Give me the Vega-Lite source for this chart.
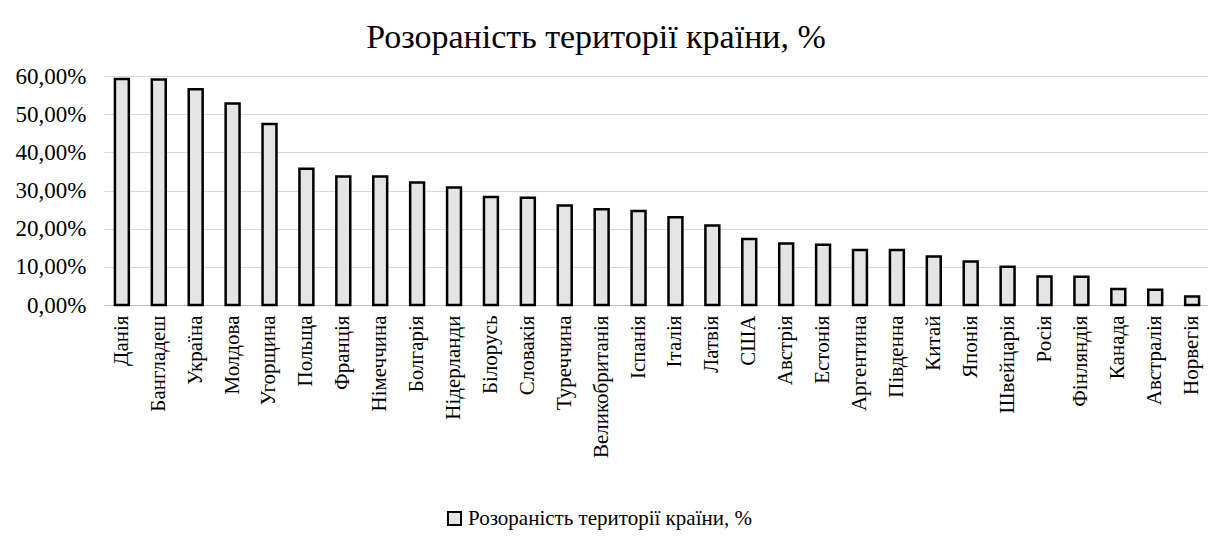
{
  "$schema": "https://vega.github.io/schema/vega-lite/v6.json",
  "width": 1104,
  "height": 229,
  "autosize": "none",
  "padding": {"left": 104, "top": 76, "right": 0, "bottom": 238},
  "background": "white",
  "config": {
    "locale": {"number": {"decimal": ",", "thousands": " ", "grouping": [3], "currency": ["", " ₴"]}},
    "font": "Liberation Serif",
    "view": {"stroke": null}
  },
  "title": {
    "text": "Розораність території країни, %",
    "font": "Liberation Serif",
    "fontSize": 34,
    "fontWeight": "normal",
    "color": "#000000",
    "anchor": "middle",
    "dx": -60,
    "offset": 10
  },
  "data": {
    "values": [
      {"country": "Данія", "share": 0.592},
      {"country": "Бангладеш", "share": 0.591},
      {"country": "Україна", "share": 0.565},
      {"country": "Молдова", "share": 0.528},
      {"country": "Угорщина", "share": 0.474},
      {"country": "Польща", "share": 0.357},
      {"country": "Франція", "share": 0.337},
      {"country": "Німеччина", "share": 0.337},
      {"country": "Болгарія", "share": 0.321},
      {"country": "Нідерланди", "share": 0.308},
      {"country": "Білорусь", "share": 0.283},
      {"country": "Словакія", "share": 0.281},
      {"country": "Туреччина", "share": 0.261},
      {"country": "Великобританія", "share": 0.251},
      {"country": "Іспанія", "share": 0.246},
      {"country": "Італія", "share": 0.230},
      {"country": "Латвія", "share": 0.208},
      {"country": "США", "share": 0.173},
      {"country": "Австрія", "share": 0.161},
      {"country": "Естонія", "share": 0.158},
      {"country": "Аргентина", "share": 0.144},
      {"country": "Південна", "share": 0.144},
      {"country": "Китай", "share": 0.127},
      {"country": "Японія", "share": 0.114},
      {"country": "Швейцарія", "share": 0.100},
      {"country": "Росія", "share": 0.075},
      {"country": "Фінляндія", "share": 0.074},
      {"country": "Канада", "share": 0.042},
      {"country": "Австралія", "share": 0.040},
      {"country": "Норвегія", "share": 0.022}
    ]
  },
  "mark": {"type": "bar", "stroke": "#000000", "strokeWidth": 2.5, "strokeJoin": "miter"},
  "encoding": {
    "x": {
      "field": "country",
      "type": "nominal",
      "sort": null,
      "scale": {"range": [0, 1106], "paddingInner": 0.623, "paddingOuter": 0.296},
      "axis": {
        "title": null,
        "labelAngle": -90,
        "labelFont": "Liberation Serif",
        "labelFontSize": 21,
        "labelColor": "#000000",
        "labelPadding": 10,
        "labelLimit": 400,
        "ticks": false,
        "domain": true,
        "domainColor": "#bfbfbf",
        "domainWidth": 1,
        "grid": false,
        "labelOverlap": false
      }
    },
    "y": {
      "field": "share",
      "type": "quantitative",
      "scale": {"domain": [0, 0.6], "nice": false},
      "axis": {
        "title": null,
        "format": ".2%",
        "values": [0, 0.1, 0.2, 0.3, 0.4, 0.5, 0.6],
        "labelFont": "Liberation Serif",
        "labelFontSize": 23,
        "labelColor": "#000000",
        "labelPadding": 18,
        "ticks": false,
        "domain": false,
        "grid": true,
        "gridColor": "#d9d9d9",
        "gridWidth": 1
      }
    },
    "color": {
      "datum": "Розораність території країни, %",
      "type": "nominal",
      "scale": {"range": ["#e4e4e4"]},
      "legend": {
        "title": null,
        "orient": "none",
        "legendX": 340,
        "legendY": 432,
        "padding": 0,
        "symbolType": "square",
        "symbolSize": 170,
        "symbolStrokeColor": "#000000",
        "symbolStrokeWidth": 2,
        "symbolFillColor": "#e4e4e4",
        "labelFont": "Liberation Serif",
        "labelFontSize": 21,
        "labelColor": "#000000",
        "labelOffset": 3,
        "labelLimit": 600
      }
    }
  }
}
